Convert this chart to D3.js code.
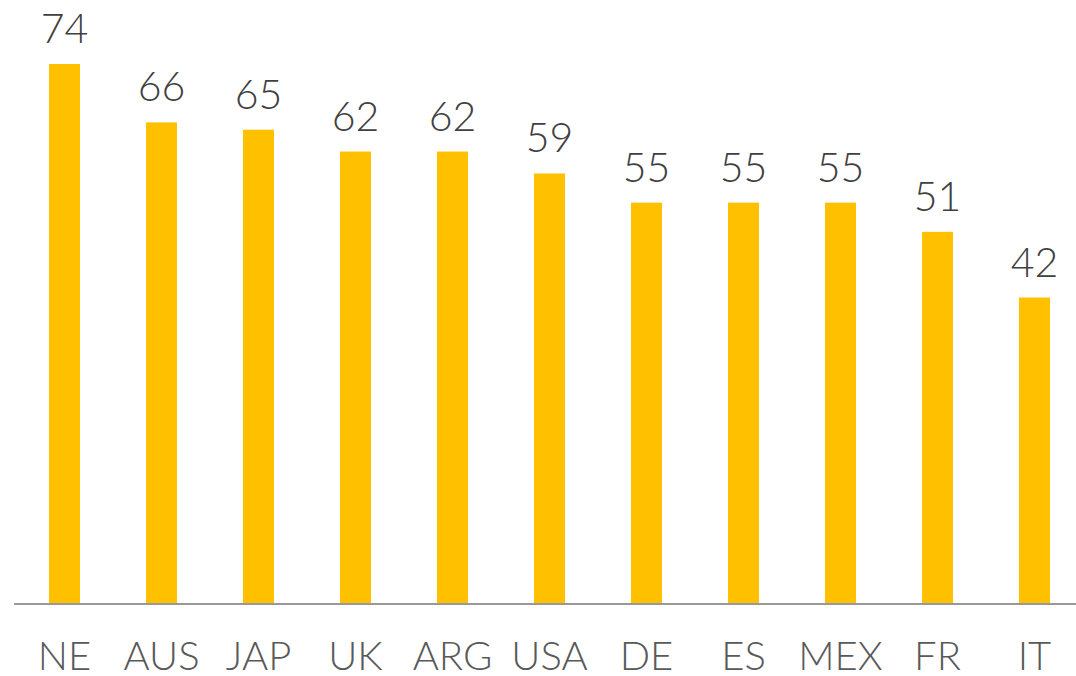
<!DOCTYPE html>
<html>
<head>
<meta charset="utf-8">
<script src="https://cdn.jsdelivr.net/npm/d3@7"></script>
<style>
  html, body { margin: 0; padding: 0; background: #fff; }
  svg text { font-family: Lato, "Open Sans", sans-serif; }
</style>
</head>
<body>
<div id="chart"></div>
<script>
var countries = ["NE", "AUS", "JAP", "UK", "ARG", "USA", "DE", "ES", "MEX", "FR", "IT"];
var scores = [74, 66, 65, 62, 62, 59, 55, 55, 55, 51, 42];

var width = 1076, height = 676;
var baseline = 604;

var svg = d3.select("#chart").append("svg")
  .attr("width", width)
  .attr("height", height);

var x = d3.scaleBand()
  .domain(countries)
  .range([16, 1083])
  .paddingInner(0.68)
  .paddingOuter(0.34);

var y = d3.scaleLinear()
  .domain([0, 74])
  .range([baseline, 64]);

svg.selectAll(".bar")
  .data(scores)
  .enter().append("rect")
  .attr("class", "bar")
  .attr("x", function (d, i) { return x(countries[i]); })
  .attr("y", function (d) { return y(d); })
  .attr("width", x.bandwidth())
  .attr("height", function (d) { return baseline - y(d); })
  .attr("fill", "#ffc000");

svg.selectAll(".val")
  .data(scores)
  .enter().append("text")
  .attr("class", "val")
  .attr("x", function (d, i) { return x(countries[i]) + x.bandwidth() / 2; })
  .attr("y", function (d) { return y(d) - 21; })
  .attr("text-anchor", "middle")
  .attr("font-size", 41)
  .attr("font-weight", 300)
  .attr("fill", "#404040")
  .text(function (d) { return d; });

// axis line
svg.append("line")
  .attr("x1", 14)
  .attr("x2", width)
  .attr("y1", baseline)
  .attr("y2", baseline)
  .attr("stroke", "#989898")
  .attr("stroke-width", 2);

var xAxis = d3.axisBottom(x).tickSize(0).tickPadding(0);
var axisG = svg.append("g")
  .attr("transform", "translate(0," + baseline + ")")
  .call(xAxis);
axisG.select(".domain").remove();
axisG.selectAll("text")
  .attr("dy", null)
  .attr("y", 66)
  .attr("font-size", 40)
  .attr("font-weight", 300)
  .attr("fill", "#595959")
  .style("font-family", "Lato, 'Open Sans', sans-serif");
</script>
</body>
</html>
